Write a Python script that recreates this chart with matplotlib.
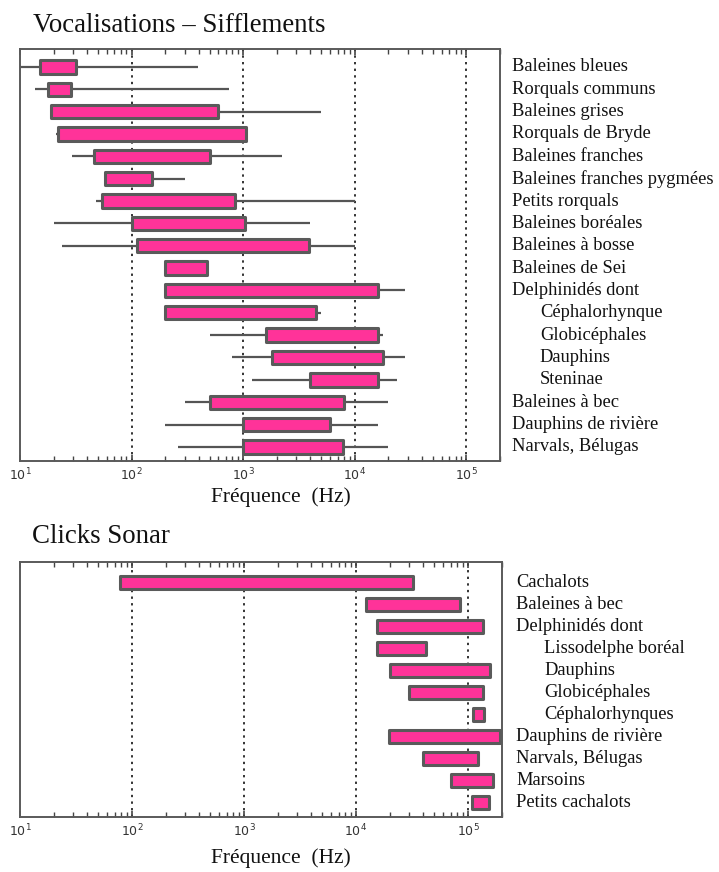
import matplotlib
matplotlib.use("Agg")
import matplotlib.pyplot as plt
from matplotlib.ticker import LogLocator, NullFormatter

# --- data: vocalisations / sifflements (Hz)
voc_names = ["Baleines bleues", "Rorquals communs", "Baleines grises",
             "Rorquals de Bryde", "Baleines franches",
             "Baleines franches pygmées", "Petits rorquals",
             "Baleines boréales", "Baleines à bosse", "Baleines de Sei",
             "Delphinidés dont", "Céphalorhynque", "Globicéphales",
             "Dauphins", "Steninae", "Baleines à bec",
             "Dauphins de rivière", "Narvals, Bélugas"]
voc_indent = [0, 0, 0, 0, 0, 0, 0, 0, 0, 0, 0, 1, 1, 1, 1, 0, 0, 0]
voc_box_lo = [15, 17.7, 19, 22, 46, 58, 54.5, 100, 112, 200,
              200, 200, 1600, 1800, 4000, 500, 1000, 1000]
voc_box_hi = [32, 28.7, 600, 1050, 500, 153, 840, 1040, 3900, 470,
              16000, 4500, 16000, 18000, 16000, 8000, 6000, 7800]
voc_wh_lo = [10, 13.6, 19, 21, 29, 58, 48, 20, 24, 200,
             200, 200, 500, 800, 1200, 300, 200, 260]
voc_wh_hi = [390, 750, 5000, 1050, 2240, 300, 10000, 4000, 10000, 470,
             28000, 5000, 18000, 28000, 24000, 20000, 16000, 20000]

# --- data: clicks sonar (Hz)
clk_names = ["Cachalots", "Baleines à bec", "Delphinidés dont",
             "Lissodelphe boréal", "Dauphins", "Globicéphales",
             "Céphalorhynques", "Dauphins de rivière", "Narvals, Bélugas",
             "Marsoins", "Petits cachalots"]
clk_indent = [0, 0, 0, 1, 1, 1, 1, 0, 0, 0, 0]
clk_lo = [78, 12300, 15500, 15500, 20000, 30000, 111000, 19800, 40000,
          70000, 108000]
clk_hi = [32000, 84000, 136000, 42000, 158000, 135000, 140000, 194000,
          122000, 168000, 155000]

PINK = "#ff3399"
EDGE = "#5a5a5a"
SERIF = ["Liberation Serif", "DejaVu Serif"]

fig = plt.figure(figsize=(7.19, 8.72), dpi=100)


def style_axes(ax, ylim):
    ax.set_xscale("log")
    ax.set_xlim(10, 2.0e5)
    ax.set_ylim(*ylim)
    ax.set_yticks([])
    ax.xaxis.set_major_locator(LogLocator(base=10))
    ax.xaxis.set_minor_locator(LogLocator(base=10, subs=range(2, 10)))
    ax.xaxis.set_minor_formatter(NullFormatter())
    ax.tick_params(axis="x", which="both", direction="in", top=True,
                   bottom=True, color="#444444")
    ax.tick_params(axis="x", which="major", length=4, width=1.2, pad=4,
                   labelsize=9, labelcolor="#333333")
    ax.tick_params(axis="x", which="minor", length=3.5, width=1.0)
    for s in ax.spines.values():
        s.set_color(EDGE)
        s.set_linewidth(1.4)
    for v in [1e2, 1e3, 1e4, 1e5]:
        ax.axvline(v, color="#333333", linestyle=(0, (1.2, 2.2)),
                   linewidth=1.4, zorder=1)


def draw_bars(ax, y, lo, hi):
    widths = [h - l for l, h in zip(lo, hi)]
    bars = ax.barh(y, widths, left=lo, height=0.6, color=PINK,
                   edgecolor=EDGE, linewidth=2.2, zorder=3)
    for b in bars:
        b.set_joinstyle("round")


def draw_labels(ax, names, indent, x0, x1):
    tr = ax.get_yaxis_transform()
    for i, (n, ind) in enumerate(zip(names, indent)):
        ax.text(x1 if ind else x0, i, n, transform=tr, ha="left",
                va="center", fontsize=13.3, family=SERIF, color="#111111",
                clip_on=False)


# top panel
ax1 = fig.add_axes([20 / 719, 1 - 461 / 872, 480 / 719, 412 / 872])
style_axes(ax1, (17.63, -0.8))
y1 = list(range(len(voc_names)))
ax1.hlines(y1, voc_wh_lo, voc_wh_hi, color="#555555", linewidth=1.6,
           zorder=2)
draw_bars(ax1, y1, voc_box_lo, voc_box_hi)
draw_labels(ax1, voc_names, voc_indent, 1.025, 1.083)

# bottom panel
ax2 = fig.add_axes([20 / 719, 1 - 816.7 / 872, 481.7 / 719, 255 / 872])
style_axes(ax2, (10.64, -0.93))
y2 = list(range(len(clk_names)))
draw_bars(ax2, y2, clk_lo, clk_hi)
draw_labels(ax2, clk_names, clk_indent, 1.03, 1.088)

# titles and axis labels
fig.text(33 / 719, 1 - 32 / 872, "Vocalisations \u2013 Sifflements",
         fontsize=19.4, family=SERIF, va="baseline", color="#111111")
fig.text(32 / 719, 1 - 543 / 872, "Clicks Sonar",
         fontsize=19.4, family=SERIF, va="baseline", color="#111111")
fig.text(281 / 719, 1 - 497 / 872, "Fréquence  (Hz)", fontsize=15.5,
         family=SERIF, ha="center", va="center", color="#111111")
fig.text(281 / 719, 1 - 858 / 872, "Fréquence  (Hz)", fontsize=15.5,
         family=SERIF, ha="center", va="center", color="#111111")

fig.savefig("out.png", dpi=100, facecolor="white")
